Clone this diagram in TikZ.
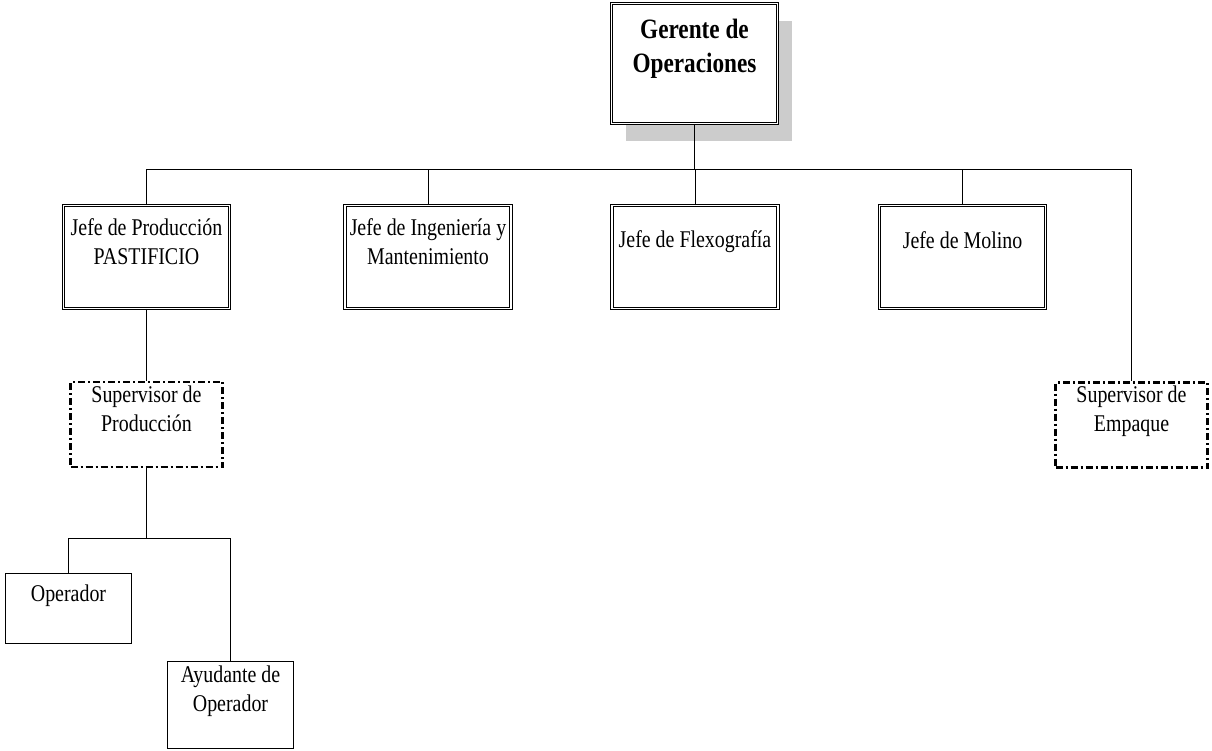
\documentclass[tikz,border=0pt]{standalone}
\usepackage{fontspec}
\setmainfont{Liberation Serif}[FakeStretch=0.83]
\usepackage{tikz}
\usetikzlibrary{positioning,shadows}

\tikzset{
  caja/.style={draw, double, line width=0.9pt, double distance=1.6pt,
    minimum width=166pt, minimum height=103pt},
  super/.style={draw, line width=2.1pt, dash pattern=on 7pt off 3pt on 2pt off 3pt,
    minimum width=152pt, minimum height=85pt},
  simple/.style={draw, line width=1pt, minimum width=126pt},
  txt/.style={anchor=north, align=center, inner sep=0pt,
    font=\fontsize{24}{29}\selectfont},
  linea/.style={line width=1pt}
}

\begin{document}
\begin{tikzpicture}[x=1pt,y=-1pt]
\useasboundingbox (0,0) rectangle (1212,751);

% gerente
\node[caja, fill=white, minimum height=120pt,
  drop shadow={shadow xshift=14pt, shadow yshift=-18pt, fill=gray!40, opacity=1},
  label={[txt, font=\fontsize{28}{34}\selectfont\bfseries, yshift=-11.5pt]north:\strut Gerente de\\Operaciones}]
  (ger) at (694.5,63.5) {};

% jefes
\node[caja, label={[txt, yshift=-10pt]north:\strut Jefe de Producción\\PASTIFICIO}] (jprod) at (146.5,257) {};
\node[caja, label={[txt, yshift=-10pt]north:\strut Jefe de Ingeniería y\\Mantenimiento}] (jing) at (428,257) {};
\node[caja, label={[txt, yshift=-22pt]north:\strut Jefe de Flexografía}] (jflex) at (695,257) {};
\node[caja, label={[txt, yshift=-23pt]north:\strut Jefe de Molino}] (jmol) at (962.5,257) {};

% supervisores
\node[super, label={[txt, yshift=-1pt]north:\strut Supervisor de\\Producción}] (sprod) at (146.5,424.5) {};
\node[super, label={[txt, yshift=-1pt]north:\strut Supervisor de\\Empaque}] (semp) at (1131.5,425) {};

% operarios
\node[simple, minimum height=70pt, label={[txt, yshift=-8pt]north:\strut Operador}] (oper) at (68.5,608.5) {};
\node[simple, minimum height=87pt, label={[txt, yshift=-1pt]north:\strut Ayudante de\\Operador}] (ayud) at (230.5,705) {};

% conectores
\coordinate (bus) at (0,170);
\coordinate (fork) at (0,538);
\draw[linea] (ger.south) -- (ger.south |- bus);
\draw[linea] (jprod.north) -- (jprod.north |- bus) -| (semp.north);
\draw[linea] (jing.north) -- (jing.north |- bus);
\draw[linea] (jflex.north) -- (jflex.north |- bus);
\draw[linea] (jmol.north) -- (jmol.north |- bus);
\draw[linea] (jprod.south) -- (sprod.north);
\draw[linea] (sprod.south) -- (sprod.south |- fork);
\draw[linea] (oper.north) |- (ayud.north |- fork) -- (ayud.north);
\end{tikzpicture}
\end{document}
